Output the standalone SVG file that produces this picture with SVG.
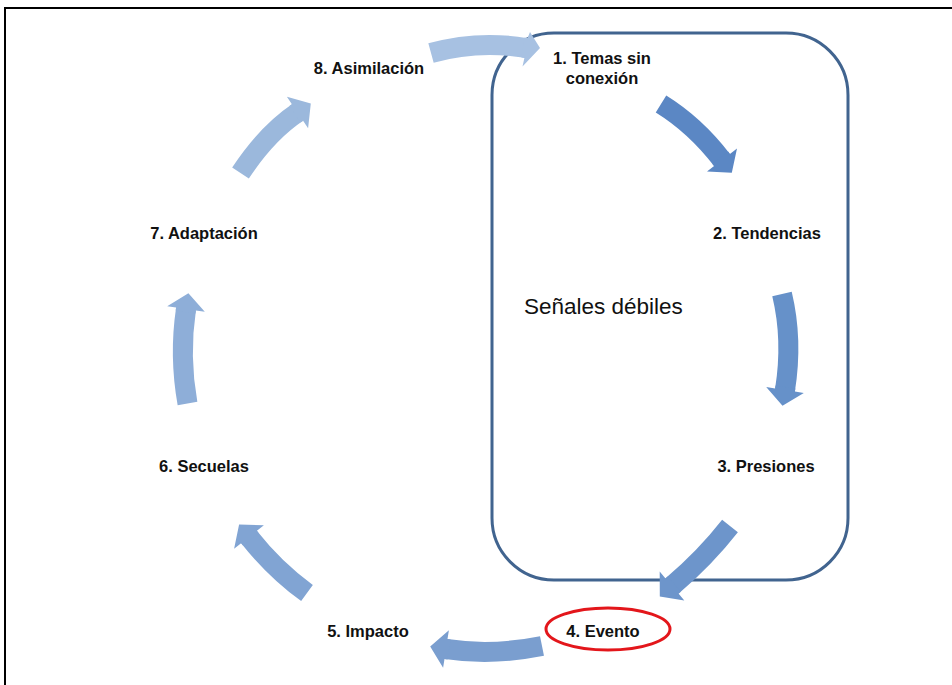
<svg xmlns="http://www.w3.org/2000/svg" width="952" height="685" viewBox="0 0 952 685">
  <style>
    .lbl { font-family: "Liberation Sans", Arial, sans-serif; font-weight: bold; font-size: 16.5px; fill: #111; text-anchor: middle; }
    .big { font-family: "Liberation Sans", Arial, sans-serif; font-size: 22.5px; fill: #111; }
    .shaft { fill: none; stroke-width: 20; stroke-linecap: butt; }
    .a1 { stroke: #5B87C4; fill: #5B87C4; }
    .a2 { stroke: #6691C9; fill: #6691C9; }
    .a3 { stroke: #6D95CB; fill: #6D95CB; }
    .a4 { stroke: #7A9ECF; fill: #7A9ECF; }
    .a5 { stroke: #81A4D3; fill: #81A4D3; }
    .a6 { stroke: #8EAED8; fill: #8EAED8; }
    .a7 { stroke: #9BB8DC; fill: #9BB8DC; }
    .a8 { stroke: #A7C1E2; fill: #A7C1E2; }
    polygon { stroke: none; }
  </style>

  <!-- page background and frame -->
  <rect x="0" y="0" width="952" height="685" fill="#ffffff"/>
  <rect x="5" y="8" width="980" height="720" fill="none" stroke="#000" stroke-width="2"/>

  <!-- weak-signals zone -->
  <g id="zona-senales">
    <rect x="492" y="33" width="356" height="547" rx="62" ry="62" fill="none" stroke="#41648F" stroke-width="3"/>
    <text class="big" x="524" y="314">Señales débiles</text>
  </g>

  <!-- cycle connectors: curved shaft + arrowhead -->
  <g id="connectors">
    <g class="a1">
      <path class="shaft" d="M661,104 Q695,125 722,160"/>
      <polygon points="712.3,163.7 714.1,166.1 707.0,171.6 731.8,172.7 737.0,148.4 729.9,153.9 728.1,151.5"/>
    </g>
    <g class="a2">
      <path class="shaft" d="M782,294 Q793,340 785,390"/>
      <polygon points="795.4,388.6 794.9,391.6 803.8,393.0 782.5,405.8 766.2,387.0 775.1,388.4 775.6,385.4"/>
    </g>
    <g class="a3">
      <path class="shaft" d="M730,526 Q705,558 672,586"/>
      <polygon points="680.8,591.7 678.5,593.6 684.3,600.5 659.8,596.4 659.7,571.5 665.5,578.4 667.8,576.5"/>
    </g>
    <g class="a4">
      <path class="shaft" d="M542,646 Q492,656 446,649"/>
      <polygon points="450.5,639.6 447.5,639.1 448.9,630.2 430.2,646.6 443.1,667.8 444.5,658.9 447.5,659.4"/>
    </g>
    <g class="a5">
      <path class="shaft" d="M307,593 Q275,570 249,537"/>
      <polygon points="258.7,533.2 256.9,530.8 263.9,525.2 239.1,524.4 234.1,548.8 241.1,543.2 243.0,545.6"/>
    </g>
    <g class="a6">
      <path class="shaft" d="M187.5,403.5 Q179,356 186,309"/>
      <polygon points="195.5,313.5 195.9,310.5 204.8,311.8 188.4,293.2 167.2,306.2 176.1,307.5 175.7,310.5"/>
    </g>
    <g class="a7">
      <path class="shaft" d="M240.5,173 Q267,133 297.5,112.5"/>
      <polygon points="300.6,122.5 303.1,120.8 308.1,128.3 310.8,103.6 286.9,96.7 291.9,104.2 289.4,105.9"/>
    </g>
    <g class="a8">
      <path class="shaft" d="M431,53 Q478,40 526,48"/>
      <polygon points="521.4,57.4 524.4,57.9 522.5,66.5 540,48 530,32 527.6,38.1 524.6,37.6"/>
    </g>
  </g>

  <!-- cycle stages -->
  <g id="n1"><text class="lbl" x="602" y="64">1. Temas sin</text><text class="lbl" x="602" y="84">conexión</text></g>
  <g id="n2"><text class="lbl" x="767" y="239">2. Tendencias</text></g>
  <g id="n3"><text class="lbl" x="766" y="472">3. Presiones</text></g>
  <g id="n4">
    <ellipse cx="608" cy="629" rx="62" ry="21" fill="none" stroke="#E3161B" stroke-width="3"/>
    <text class="lbl" x="603" y="637">4. Evento</text>
  </g>
  <g id="n5"><text class="lbl" x="368" y="637">5. Impacto</text></g>
  <g id="n6"><text class="lbl" x="204" y="472">6. Secuelas</text></g>
  <g id="n7"><text class="lbl" x="204" y="239">7. Adaptación</text></g>
  <g id="n8"><text class="lbl" x="369" y="74">8. Asimilación</text></g>
</svg>
